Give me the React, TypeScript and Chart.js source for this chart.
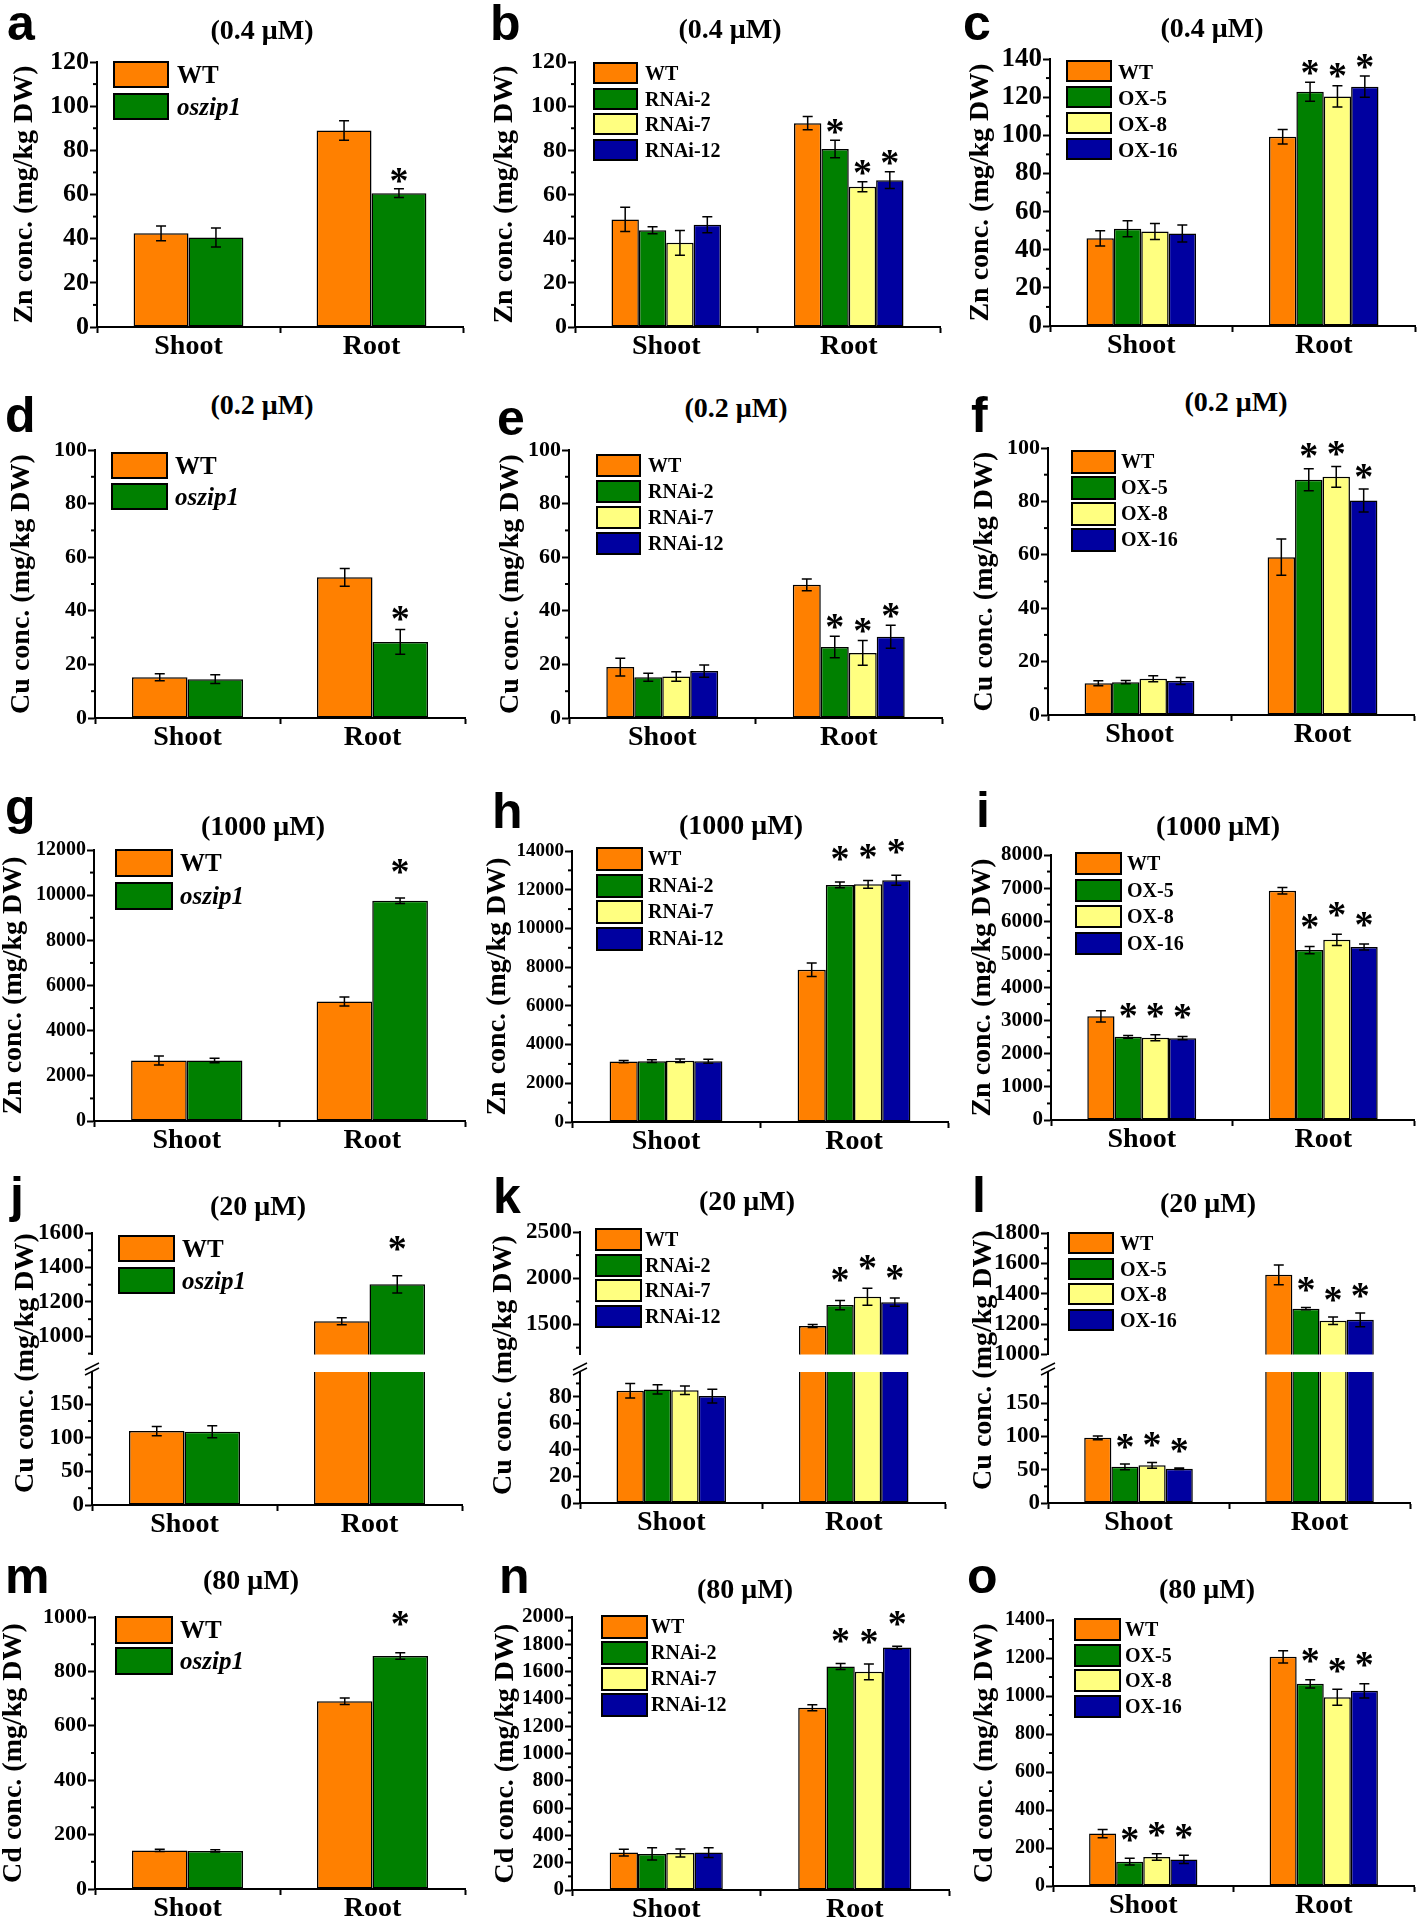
import React, { useEffect, useRef } from "react";
import { Chart, registerables } from "chart.js";

Chart.register(...registerables);

const SERIF = "'Liberation Serif', 'Times New Roman', serif";
const SANS = "'Liberation Sans', Arial, sans-serif";

// ---------------- data ----------------
const categories = ["Shoot", "Root"];
const mutantLines = ["WT", "oszip1"];
const rnaiLines = ["WT", "RNAi-2", "RNAi-7", "RNAi-12"];
const oxLines = ["WT", "OX-5", "OX-8", "OX-16"];

const twoColors = ["#FF8000", "#008000"];
const fourColors = ["#FF8000", "#008000", "#FFFF80", "#0000A0"];

// each row: one line, [Shoot, Root]
const aMeans = [[42.4, 89.0], [40.5, 60.6]];
const aErrs = [[3.3, 4.4], [4.3, 2.0]];
const aStars = [[0, 0], [0, 1]];

const bMeans = [[48.7, 92.3], [43.8, 80.6], [38.1, 63.5], [46.3, 66.5]];
const bErrs = [[5.5, 3.0], [1.6, 4.0], [5.6, 2.3], [3.6, 3.8]];
const bStars = [[0, 0], [0, 1], [0, 1], [0, 1]];

const cMeans = [[46.0, 99.2], [51.0, 122.8], [49.6, 120.4], [48.5, 125.5]];
const cErrs = [[4.0, 3.8], [4.2, 5.0], [4.2, 5.6], [4.4, 5.6]];
const cStars = [[0, 0], [0, 1], [0, 1], [0, 1]];

const dMeans = [[15.2, 52.5], [14.5, 28.4]];
const dErrs = [[1.3, 3.3], [1.6, 4.6]];
const dStars = [[0, 0], [0, 1]];

const eMeans = [[19.0, 49.7], [15.2, 26.5], [15.5, 24.3], [17.5, 30.3]];
const eErrs = [[3.3, 2.2], [1.5, 4.0], [1.8, 4.6], [2.3, 4.3]];
const eStars = [[0, 0], [0, 1], [0, 1], [0, 1]];

const fMeans = [[11.9, 59.1], [12.3, 88.1], [13.6, 89.2], [12.7, 80.3]];
const fErrs = [[0.9, 6.8], [0.6, 4.1], [1.1, 3.9], [1.3, 4.3]];
const fStars = [[0, 0], [0, 1], [0, 1], [0, 1]];

const gMeans = [[2680, 5290], [2680, 9750]];
const gErrs = [[200, 200], [100, 120]];
const gStars = [[0, 0], [0, 1]];

const hMeans = [[3120, 7870], [3140, 12250], [3160, 12280], [3140, 12490]];
const hErrs = [[60, 350], [70, 150], [90, 200], [100, 260]];
const hStars = [[0, 0], [0, 1], [0, 1], [0, 1]];

const iMeans = [[3130, 6920], [2510, 5130], [2480, 5440], [2470, 5220]];
const iErrs = [[170, 100], [40, 110], [90, 170], [50, 90]];
const iStars = [[0, 0], [1, 1], [1, 1], [1, 1]];

const jMeans = [[110, 1088], [109, 1302]];
const jErrs = [[7, 20], [9, 50]];
const jStars = [[0, 0], [0, 1]];

const kMeans = [[84.5, 1484], [85.5, 1710], [84.8, 1800], [80.5, 1742]];
const kErrs = [[5.5, 15], [3.5, 50], [3.2, 92], [5.2, 45]];
const kStars = [[0, 0], [0, 1], [0, 1], [0, 1]];

const lMeans = [[98, 1525], [54.4, 1302], [56.6, 1222], [51.4, 1228]];
const lErrs = [[2.8, 65], [4.3, 8], [4.2, 25], [1.2, 45]];
const lStars = [[0, 0], [1, 1], [1, 1], [1, 1]];

const mMeans = [[142, 690], [140, 857]];
const mErrs = [[4, 12], [4, 12]];
const mStars = [[0, 0], [0, 1]];

const nMeans = [[274, 1335], [264, 1638], [271, 1598], [274, 1776]];
const nErrs = [[25, 22], [45, 22], [30, 58], [35, 10]];
const nStars = [[0, 0], [0, 1], [0, 1], [0, 1]];

const oMeans = [[276, 1206], [128, 1064], [153, 993], [140, 1027]];
const oErrs = [[22, 32], [18, 22], [17, 42], [22, 38]];
const oStars = [[0, 0], [1, 1], [1, 1], [1, 1]];

// ---------------- layout ----------------
const colX = [0, 473, 946];

type Seg = { T: number; B: number; min: number; max: number; step: number };

interface PanelCfg {
  letter: string; letterPos: [number, number];
  title: string; titlePos: [number, number];
  yTitle: string; yTitlePos: [number, number];
  col: number; L: number; R: number;
  segs: Seg[]; // one = normal; two = [upper, lower]
  tick: number; starGap: number;
  lines: string[]; colors: string[];
  means: number[][]; errs: number[][]; stars: number[][];
  legend: [number, number, number, number, number, number, number];
}

const ZN = "Zn conc. (mg/kg DW)";
const CU = "Cu conc. (mg/kg DW)";
const CD = "Cd conc. (mg/kg DW)";

const panels: PanelCfg[] = [
  { letter: "a", letterPos: [7, -2], title: "(0.4 μM)", titlePos: [262, 32], yTitle: ZN, yTitlePos: [25, 0], col: 0, L: 97, R: 463,
    segs: [{ T: 62, B: 327, min: 0, max: 120, step: 20 }], tick: 26, starGap: 6, lines: mutantLines, colors: twoColors,
    means: aMeans, errs: aErrs, stars: aStars, legend: [113, 61, 56, 27, 32, 177, 25] },
  { letter: "b", letterPos: [490, -2], title: "(0.4 μM)", titlePos: [730, 31], yTitle: ZN, yTitlePos: [505, 0], col: 1, L: 575, R: 940,
    segs: [{ T: 62, B: 327, min: 0, max: 120, step: 20 }], tick: 24, starGap: 7, lines: rnaiLines, colors: fourColors,
    means: bMeans, errs: bErrs, stars: bStars, legend: [593, 62, 45, 22, 25.5, 645, 20] },
  { letter: "c", letterPos: [963, -2], title: "(0.4 μM)", titlePos: [1212, 30], yTitle: ZN, yTitlePos: [981, 0], col: 2, L: 1050, R: 1415,
    segs: [{ T: 59, B: 326, min: 0, max: 140, step: 20 }], tick: 27, starGap: 8, lines: oxLines, colors: fourColors,
    means: cMeans, errs: cErrs, stars: cStars, legend: [1066, 60, 46, 22, 26, 1118, 21] },

  { letter: "d", letterPos: [5, 390], title: "(0.2 μM)", titlePos: [262, 407], yTitle: CU, yTitlePos: [22, 0], col: 0, L: 95, R: 465,
    segs: [{ T: 450, B: 718, min: 0, max: 100, step: 20 }], tick: 22, starGap: 9, lines: mutantLines, colors: twoColors,
    means: dMeans, errs: dErrs, stars: dStars, legend: [111, 452, 57, 27, 31, 175, 25] },
  { letter: "e", letterPos: [497, 393], title: "(0.2 μM)", titlePos: [736, 410], yTitle: CU, yTitlePos: [511, 0], col: 1, L: 569, R: 942,
    segs: [{ T: 450, B: 718, min: 0, max: 100, step: 20 }], tick: 22, starGap: 8, lines: rnaiLines, colors: fourColors,
    means: eMeans, errs: eErrs, stars: eStars, legend: [596, 454, 45, 23, 26, 648, 20] },
  { letter: "f", letterPos: [971, 390], title: "(0.2 μM)", titlePos: [1236, 404], yTitle: CU, yTitlePos: [985, 0], col: 2, L: 1048, R: 1414,
    segs: [{ T: 448, B: 715, min: 0, max: 100, step: 20 }], tick: 22, starGap: 11, lines: oxLines, colors: fourColors,
    means: fMeans, errs: fErrs, stars: fStars, legend: [1071, 450, 45, 24, 26, 1121, 20] },

  { letter: "g", letterPos: [5, 782], title: "(1000 μM)", titlePos: [263, 828], yTitle: ZN, yTitlePos: [14, 0], col: 0, L: 94, R: 465,
    segs: [{ T: 850, B: 1121, min: 0, max: 12000, step: 2000 }], tick: 20, starGap: 25, lines: mutantLines, colors: twoColors,
    means: gMeans, errs: gErrs, stars: gStars, legend: [115, 849, 58, 28, 33, 180, 25] },
  { letter: "h", letterPos: [492, 786], title: "(1000 μM)", titlePos: [741, 827], yTitle: ZN, yTitlePos: [498, 0], col: 1, L: 572, R: 948,
    segs: [{ T: 851, B: 1122, min: 0, max: 14000, step: 2000 }], tick: 19, starGap: 22, lines: rnaiLines, colors: fourColors,
    means: hMeans, errs: hErrs, stars: hStars, legend: [596, 847, 47, 24, 26.5, 648, 20] },
  { letter: "i", letterPos: [976, 785], title: "(1000 μM)", titlePos: [1218, 828], yTitle: ZN, yTitlePos: [983, 0], col: 2, L: 1051, R: 1414,
    segs: [{ T: 855, B: 1120, min: 0, max: 8000, step: 1000 }], tick: 21, starGap: 18, lines: oxLines, colors: fourColors,
    means: iMeans, errs: iErrs, stars: iStars, legend: [1075, 852, 47, 23, 26.5, 1127, 20] },

  { letter: "j", letterPos: [10, 1170], title: "(20 μM)", titlePos: [258, 1208], yTitle: CU, yTitlePos: [24, 1363], col: 0, L: 92, R: 462,
    segs: [{ T: 1233, B: 1367, min: 895, max: 1600, step: 200 }, { T: 1372, B: 1505, min: 0, max: 198, step: 50 }],
    tick: 23, starGap: 25, lines: mutantLines, colors: twoColors,
    means: jMeans, errs: jErrs, stars: jStars, legend: [118, 1235, 57, 27, 32, 182, 25] },
  { letter: "k", letterPos: [493, 1171], title: "(20 μM)", titlePos: [747, 1203], yTitle: CU, yTitlePos: [502, 1365], col: 1, L: 580, R: 945,
    segs: [{ T: 1232, B: 1367, min: 1176, max: 2500, step: 500 }, { T: 1372, B: 1503, min: 0, max: 98.6, step: 20 }],
    tick: 23, starGap: 19, lines: rnaiLines, colors: fourColors,
    means: kMeans, errs: kErrs, stars: kStars, legend: [595, 1228, 47, 23, 25.7, 645, 20] },
  { letter: "l", letterPos: [972, 1170], title: "(20 μM)", titlePos: [1208, 1205], yTitle: CU, yTitlePos: [982, 1360], col: 2, L: 1048, R: 1410,
    segs: [{ T: 1233, B: 1367, min: 1000, max: 1800, step: 200 }, { T: 1372, B: 1503, min: 0, max: 197, step: 50 }],
    tick: 23, starGap: 16, lines: oxLines, colors: fourColors,
    means: lMeans, errs: lErrs, stars: lStars, legend: [1068, 1232, 46, 22, 25.5, 1120, 20] },

  { letter: "m", letterPos: [5, 1551], title: "(80 μM)", titlePos: [251, 1582], yTitle: CD, yTitlePos: [14, 0], col: 0, L: 95, R: 465,
    segs: [{ T: 1617, B: 1889, min: 0, max: 1000, step: 200 }], tick: 22, starGap: 27, lines: mutantLines, colors: twoColors,
    means: mMeans, errs: mErrs, stars: mStars, legend: [115, 1616, 58, 28, 31, 180, 25] },
  { letter: "n", letterPos: [499, 1551], title: "(80 μM)", titlePos: [745, 1591], yTitle: CD, yTitlePos: [506, 0], col: 1, L: 572, R: 949,
    segs: [{ T: 1617, B: 1890, min: 0, max: 2000, step: 200 }], tick: 21, starGap: 21, lines: rnaiLines, colors: fourColors,
    means: nMeans, errs: nErrs, stars: nStars, legend: [601, 1615, 47, 24, 26, 651, 20] },
  { letter: "o", letterPos: [967, 1551], title: "(80 μM)", titlePos: [1207, 1591], yTitle: CD, yTitlePos: [985, 0], col: 2, L: 1053, R: 1414,
    segs: [{ T: 1620, B: 1886, min: 0, max: 1400, step: 200 }], tick: 20, starGap: 17, lines: oxLines, colors: fourColors,
    means: oMeans, errs: oErrs, stars: oStars, legend: [1074, 1618, 47, 23, 25.5, 1125, 20] },
];

const STAR_SIZE = 38;

// ---------------- chart canvas ----------------
interface CanvasProps {
  left: number; top: number; width: number; height: number;
  padTop: number; padRight: number;
  yWidth: number; xHeight: number;
  seg: Seg; tick: number;
  yTitle: string | null; yTitlePad: number;
  lines: string[]; colors: string[];
  means: number[][]; errs: number[][]; stars: number[][];
  starGap: number; breakMark: boolean;
}

function BarCanvas(p: CanvasProps) {
  const ref = useRef<HTMLCanvasElement>(null);
  useEffect(() => {
    const cv = ref.current;
    if (!cv) return;
    const overlay = {
      id: "overlay",
      afterDatasetsDraw(chart: any) {
        const ctx = chart.ctx;
        const ys = chart.scales.y;
        ctx.save();
        ctx.strokeStyle = "#000";
        ctx.fillStyle = "#000";
        ctx.lineWidth = 1.5;
        chart.data.datasets.forEach((ds: any, i: number) => {
          const meta = chart.getDatasetMeta(i);
          meta.data.forEach((bar: any, j: number) => {
            const v = ds.data[j];
            if (v < ys.min || v > ys.max) return;
            const e = p.errs[i][j];
            const x = bar.x;
            const yt = ys.getPixelForValue(v + e);
            const yb = ys.getPixelForValue(v - e);
            ctx.beginPath();
            ctx.moveTo(x, yt); ctx.lineTo(x, yb);
            ctx.moveTo(x - 5, yt); ctx.lineTo(x + 5, yt);
            ctx.moveTo(x - 5, yb); ctx.lineTo(x + 5, yb);
            ctx.stroke();
            if (p.stars[i][j]) {
              ctx.font = `bold ${STAR_SIZE}px ${SERIF}`;
              ctx.textAlign = "center";
              ctx.textBaseline = "alphabetic";
              ctx.fillText("*", x, yt - p.starGap + 0.28 * STAR_SIZE);
            }
          });
        });
        ctx.restore();
      },
      afterDraw(chart: any) {
        const ctx = chart.ctx;
        const ys = chart.scales.y;
        const area = chart.chartArea;
        const minor = p.seg.step / 2;
        ctx.save();
        ctx.strokeStyle = "#000";
        ctx.lineWidth = 2;
        const k0 = Math.ceil(ys.min / minor - 1e-9);
        const k1 = Math.floor(ys.max / minor + 1e-9);
        for (let k = k0; k <= k1; k++) {
          if (k % 2 === 0) continue;
          const py = ys.getPixelForValue(k * minor);
          ctx.beginPath();
          ctx.moveTo(area.left, py);
          ctx.lineTo(area.left - 4, py);
          ctx.stroke();
        }
        if (p.breakMark) {
          ctx.lineWidth = 1.5;
          for (const yy of [area.top - 0.5, area.top - 5.5]) {
            ctx.beginPath();
            ctx.moveTo(area.left - 7, yy + 3.5);
            ctx.lineTo(area.left + 7, yy - 3.5);
            ctx.stroke();
          }
        }
        ctx.restore();
      },
    };

    const chart = new Chart(cv, {
      type: "bar",
      data: {
        labels: categories,
        datasets: p.lines.map((name, i) => ({
          label: name,
          data: p.means[i],
          backgroundColor: p.colors[i],
          borderColor: "#000",
          borderWidth: 1.5,
          borderSkipped: false,
          clip: 0,
          categoryPercentage: 0.6,
          barPercentage: 1.0,
        })) as any,
      },
      options: {
        animation: false,
        responsive: false,
        maintainAspectRatio: false,
        events: [],
        layout: { autoPadding: false, padding: { left: 0, right: p.padRight, top: p.padTop, bottom: 0 } } as any,
        plugins: { legend: { display: false }, tooltip: { enabled: false } },
        scales: {
          x: {
            display: p.xHeight > 0,
            offset: true,
            z: 1,
            grid: { display: true, offset: true, drawOnChartArea: false, drawTicks: true, tickLength: 6, tickWidth: 2, tickColor: "#000" },
            border: { display: true, color: "#000", width: 2 },
            ticks: { color: "#000", font: { family: SERIF, size: 28, weight: "bold", lineHeight: 1 }, padding: 0, maxRotation: 0, autoSkip: false },
            afterFit: (s: any) => { s.height = p.xHeight; },
          } as any,
          y: {
            min: p.seg.min,
            max: p.seg.max,
            z: 1,
            grid: { display: true, drawOnChartArea: false, drawTicks: true, tickLength: 7, tickWidth: 2, tickColor: "#000" },
            border: { display: true, color: "#000", width: 2 },
            ticks: {
              stepSize: p.seg.step, autoSkip: false, color: "#000", padding: 1,
              font: { family: SERIF, size: p.tick, weight: "bold", lineHeight: 1 },
              callback: (v: any) => String(v),
            },
            afterBuildTicks: (s: any) => {
              const out: any[] = [];
              const k0 = Math.ceil(p.seg.min / p.seg.step - 1e-9);
              const k1 = Math.floor(p.seg.max / p.seg.step + 1e-9);
              for (let k = k0; k <= k1; k++) out.push({ value: k * p.seg.step });
              s.ticks = out;
            },
            title: {
              display: !!p.yTitle, text: p.yTitle || "", color: "#000",
              font: { family: SERIF, size: 28, weight: "bold", lineHeight: 1 },
              padding: { top: p.yTitlePad, bottom: 0 },
            },
            afterFit: (s: any) => { s.width = p.yWidth; },
          } as any,
        },
      },
      plugins: [overlay as any],
    });
    return () => chart.destroy();
  }, []);
  return (
    <canvas
      ref={ref}
      width={p.width}
      height={p.height}
      style={{ position: "absolute", left: p.left, top: p.top, width: p.width, height: p.height }}
    />
  );
}

function Panel({ cfg }: { cfg: PanelCfg }) {
  const cx = colX[cfg.col];
  const width = cfg.R + 4 - cx;
  const yWidth = cfg.L - cx;
  const broken = cfg.segs.length === 2;
  const titlePad = Math.max(0, cfg.yTitlePos[0] - cx - 14);
  const [lx, ly, lw, lh, lsp, tx, fs] = cfg.legend;
  const canvases = cfg.segs.map((seg, si) => {
    const isLast = si === cfg.segs.length - 1;
    const padTop = 25;
    const xHeight = isLast ? 45 : 0;
    return (
      <BarCanvas
        key={si}
        left={cx}
        top={seg.T - padTop}
        width={width}
        height={seg.B - seg.T + padTop + xHeight}
        padTop={padTop}
        padRight={4}
        yWidth={yWidth}
        xHeight={xHeight}
        seg={seg}
        tick={cfg.tick}
        yTitle={broken ? null : cfg.yTitle}
        yTitlePad={titlePad}
        lines={cfg.lines}
        colors={cfg.colors}
        means={cfg.means}
        errs={cfg.errs}
        stars={cfg.stars}
        starGap={cfg.starGap}
        breakMark={broken && si === 1}
      />
    );
  });
  return (
    <>
      {canvases}
      <div style={{ position: "absolute", left: cfg.letterPos[0], top: cfg.letterPos[1], font: `bold 50px ${SANS}`, lineHeight: "50px", color: "#000" }}>
        {cfg.letter}
      </div>
      <div style={{ position: "absolute", left: cfg.titlePos[0] - 120, width: 240, top: cfg.titlePos[1] - 16.5, textAlign: "center", font: `bold 28px ${SERIF}`, lineHeight: "28px", whiteSpace: "nowrap", color: "#000" }}>
        {cfg.title}
      </div>
      {broken && (
        <div style={{ position: "absolute", left: cfg.yTitlePos[0], top: cfg.yTitlePos[1], transform: "translate(-50%, -50%) rotate(-90deg)", font: `bold 28px ${SERIF}`, lineHeight: "28px", whiteSpace: "nowrap", color: "#000" }}>
          {cfg.yTitle}
        </div>
      )}
      {cfg.lines.map((name, i) => (
        <React.Fragment key={name}>
          <div style={{ position: "absolute", left: lx, top: ly + i * lsp, width: lw, height: lh, background: cfg.colors[i], border: "2px solid #000", boxSizing: "border-box" }} />
          <div style={{ position: "absolute", left: tx, top: ly + i * lsp, height: lh, lineHeight: `${lh}px`, font: `bold ${fs}px ${SERIF}`, fontStyle: name === "oszip1" ? "italic" : "normal", whiteSpace: "nowrap", color: "#000" }}>
            {name}
          </div>
        </React.Fragment>
      ))}
    </>
  );
}

export default function App() {
  useEffect(() => {
    document.body.style.margin = "0";
    document.body.style.background = "#fff";
  }, []);
  return (
    <div style={{ position: "absolute", left: 0, top: 0, width: 1418, height: 1921, overflow: "hidden", background: "#fff" }}>
      {panels.map((cfg) => (
        <Panel key={cfg.letter} cfg={cfg} />
      ))}
    </div>
  );
}
